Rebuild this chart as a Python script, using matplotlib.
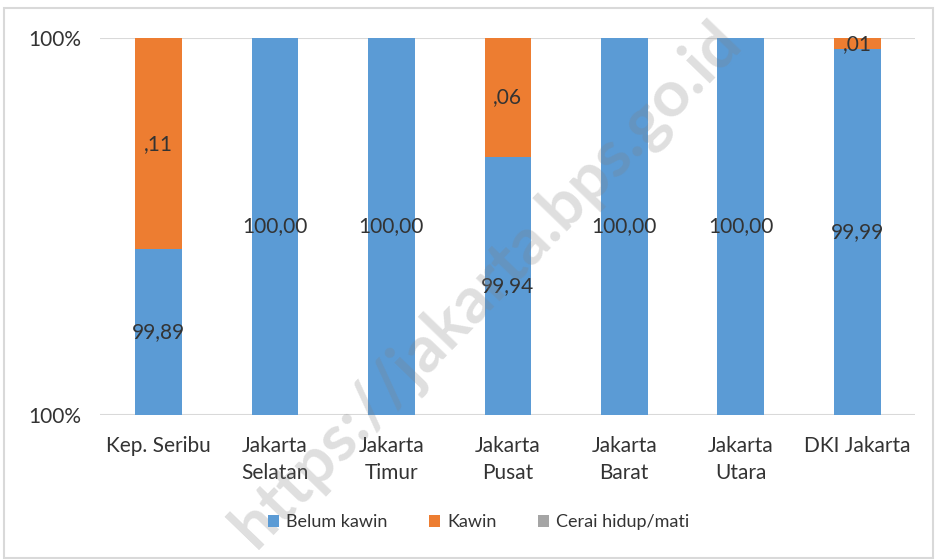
import matplotlib.pyplot as plt
from matplotlib.patches import Rectangle

categories = ['Kep. Seribu', 'Jakarta\nSelatan', 'Jakarta\nTimur', 'Jakarta\nPusat',
              'Jakarta\nBarat', 'Jakarta\nUtara', 'DKI Jakarta']
belum_kawin = [99.888, 100.000, 100.000, 99.937, 100.000, 100.000, 99.994]
kawin = [0.112, 0.000, 0.000, 0.063, 0.000, 0.000, 0.006]
cerai = [0, 0, 0, 0, 0, 0, 0]

blue = '#5b9bd5'
orange = '#ed7d31'
grey = '#a5a5a5'
ymin, ymax = 99.8, 100.0

plt.rcParams['font.family'] = ['Lato', 'DejaVu Sans']

fig = plt.figure(figsize=(9.37, 5.6), dpi=100)
ax = fig.add_axes([0.107, 0.259, 0.87, 0.673])

x = range(len(categories))
b1 = ax.bar(x, belum_kawin, width=0.4, color=blue, label='Belum kawin', zorder=2)
b2 = ax.bar(x, kawin, width=0.4, bottom=belum_kawin, color=orange, label='Kawin', zorder=2)
b3 = ax.bar(x, cerai, width=0.4, bottom=[a + b for a, b in zip(belum_kawin, kawin)],
            color=grey, label='Cerai hidup/mati', zorder=2)

ax.set_ylim(ymin, ymax)
ax.set_xlim(-0.5, len(categories) - 0.5)
ax.set_yticks([ymin, ymax])
ax.set_yticklabels(['100%', '100%'])
ax.set_xticks(list(x))
ax.set_xticklabels(categories, linespacing=1.45)
ax.tick_params(length=0, labelsize=15, colors='#333333')
ax.tick_params(axis='y', pad=14)
ax.tick_params(axis='x', pad=15)
ax.grid(axis='y', color='#d9d9d9', linewidth=1.5, zorder=0)
for s in ax.spines.values():
    s.set_visible(False)

# data labels
for i in x:
    hi = min(belum_kawin[i], ymax)
    txt = f'{belum_kawin[i]:.2f}'.replace('.', ',')
    ax.text(i, (ymin + hi) / 2, txt, ha='center', va='center', fontsize=15, color='#333333', zorder=3)
    if kawin[i] > 0:
        k = f'{kawin[i]:.2f}'[1:].replace('.', ',')
        ax.text(i, belum_kawin[i] + kawin[i] / 2, k, ha='center', va='center',
                fontsize=15, color='#333333', zorder=3)

fig.legend(handles=[b1, b2, b3], loc='center', bbox_to_anchor=(0.511, 0.067), ncol=3,
           frameon=False, fontsize=13, handlelength=0.6, handleheight=0.6,
           columnspacing=2.3, handletextpad=0.4, labelcolor='#333333')

# watermark
fig.text(0.52, 0.49, 'https://jakarta.bps.go.id', rotation=46, fontsize=47, fontweight='bold',
         color='#808080', alpha=0.25, ha='center', va='center', zorder=5)

fig.patches.append(Rectangle((0.004, 0.004), 0.992, 0.981, transform=fig.transFigure,
                             fill=False, edgecolor='#d9d9d9', linewidth=1.5))

fig.savefig('out.png', dpi=100)
